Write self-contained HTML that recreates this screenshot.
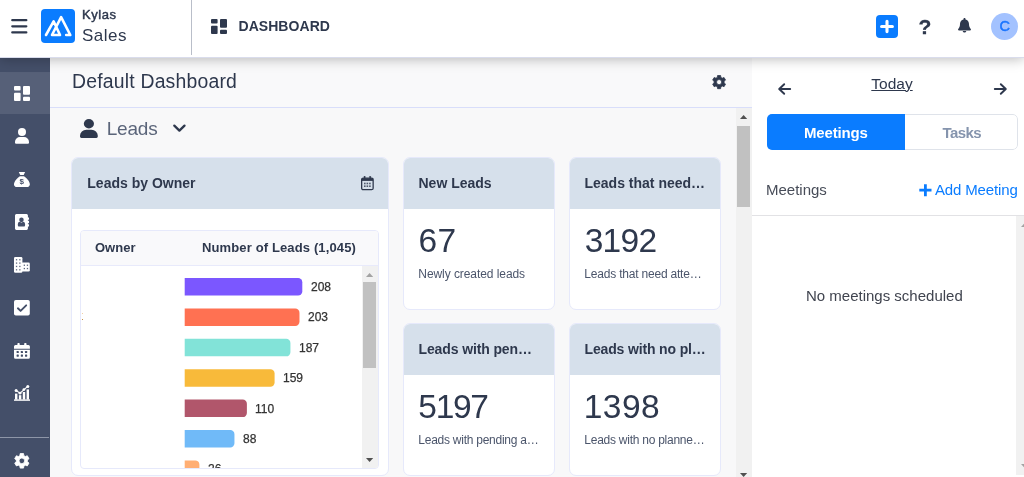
<!DOCTYPE html>
<html lang="en">
<head>
<meta charset="utf-8">
<title>Kylas Sales - Dashboard</title>
<style>
*{box-sizing:border-box;margin:0;padding:0}
html,body{width:1024px;height:477px;overflow:hidden;background:#f8f8f9}
body{font-family:"Liberation Sans",sans-serif;color:#2e384d;position:relative}
.abs{position:absolute}
.t{position:absolute;white-space:nowrap;line-height:1}
svg{position:absolute;display:block;overflow:visible}

/* ---------- top bar ---------- */
#top{position:absolute;left:0;top:0;width:1024px;height:58px;border-bottom:1px solid #d9dcec;background:#fff;box-shadow:0 1px 12px rgba(0,0,0,.28);z-index:10}
#burger i{position:absolute;left:11px;width:16px;height:2px;background:#2e384d;border-radius:1px}
#logobg{left:41px;top:9px;width:34px;height:34px;background:#0a7cff;border-radius:4px}
#vline{left:191px;top:0;width:1px;height:55px;background:#b9bec9}
#plusbtn{left:876.2px;top:15px;width:21.9px;height:23px;background:#0a7cff;border-radius:4px}
#avatar{left:991px;top:13px;width:27px;height:27px;border-radius:50%;background:#a3c2ff}

/* ---------- sidebar ---------- */
#side{position:absolute;left:0;top:57px;width:50px;height:420px;background:#444f69}
#side .active{position:absolute;left:0;top:15px;width:50px;height:42px;background:#566078}
#side .sep{position:absolute;left:0;top:380px;width:49px;height:1px;background:#8e96a8}

/* ---------- main ---------- */
#main{position:absolute;left:50px;top:57px;width:702px;height:420px;background:#f8f8f9}
#titlebar{position:absolute;left:0;top:0;width:702px;height:50px;background:#f9f9fa}
#titleline{left:0;top:50px;width:702px;height:1px;background:#d9defa}
.card{position:absolute;background:#fff;border:1px solid #e6e9fb;border-radius:7px;overflow:hidden}
.card .hd{position:absolute;left:0;top:0;right:0;height:50.5px;background:#d6e0eb}
.ttl{font-weight:bold;font-size:14px}
.num{font-size:33.5px}
.cap{font-size:12px;color:#4b556b}
.bar{position:absolute;left:104px;height:18px;border-radius:0 5px 5px 0}
.bl{font-size:12px;color:#333;-webkit-text-stroke:.25px #333}
#tbl{position:absolute;left:8px;top:72px;width:299px;height:239px;border:1px solid #e6e9fb;border-radius:4px;background:#fff;overflow:hidden}
#tbl .th{position:absolute;left:0;top:0;width:297px;height:35px;background:#f9f9fb;border-bottom:1px solid #e8eafb}
.sb{position:absolute;background:#f1f1f1}
.sb .thumb{position:absolute;background:#c1c1c1}
.sb .up,.sb .dn{position:absolute;width:0;height:0;border-left:3.5px solid transparent;border-right:3.5px solid transparent}
.sb .up{border-bottom:4px solid #505050}
.sb .dn{border-top:4px solid #505050}

/* ---------- right panel ---------- */
#right{position:absolute;left:752px;top:57px;width:272px;height:420px;background:#fff}
#tabs{position:absolute;left:14.5px;top:57px;width:251.5px;height:36px;border-radius:5px;background:#fff;overflow:hidden}
#tabs .off{position:absolute;left:0;top:0;right:0;bottom:0;border:1px solid #dfe3ea;border-radius:5px}
#tabs .on{position:absolute;left:0;top:0;width:138.5px;height:36px;background:#0a7cff}
#rline{position:absolute;left:0;top:158px;width:272px;height:1px;background:#e2e2e5}
</style>
</head>
<body>
<!-- main content -->
<div id="main">
  <div id="titlebar"></div>
  <div class="t" id="t_dd" style="left:22px;top:15px;font-size:19.4px;letter-spacing:.2px">Default Dashboard</div>
  <svg style="left:661.90px;top:18.40px" width="14.2" height="14.2" viewBox="-8.3 -8.3 16.6 16.6"><path d="M-2.11 -5.51L-1.78 -7.70L1.78 -7.70L2.11 -5.51L3.71 -4.59L5.78 -5.39L7.55 -2.31L5.83 -0.92L5.83 0.92L7.55 2.31L5.78 5.39L3.71 4.59L2.11 5.51L1.78 7.70L-1.78 7.70L-2.11 5.51L-3.71 4.59L-5.78 5.39L-7.55 2.31L-5.83 0.92L-5.83 -0.92L-7.55 -2.31L-5.78 -5.39L-3.71 -4.59ZM3 0A3 3 0 1 0 -3 0A3 3 0 1 0 3 0Z" fill="#2e384d" fill-rule="evenodd" stroke="#2e384d" stroke-width="0.9" stroke-linejoin="round"/></svg>
  <div class="abs" id="titleline"></div>
  <svg style="left:30.2px;top:62px" width="17.8" height="18.9" viewBox="0 0 14 16" preserveAspectRatio="none"><circle cx="7" cy="4.05" r="4" fill="#2e384d"/><path fill="#2e384d" d="M0 14.9V14.2A5 5 0 0 1 5 9.2H9A5 5 0 0 1 14 14.2V14.9A1.1 1.1 0 0 1 12.9 16H1.1A1.1 1.1 0 0 1 0 14.9Z"/></svg>
  <div class="t" id="t_leads" style="left:56.7px;top:62px;font-size:19px;letter-spacing:-.2px;color:#5b657a">Leads</div>
  <svg style="left:122.7px;top:66.8px" width="13" height="9" viewBox="0 0 13 9"><path d="M1.3 1.6L6.4 6.6L11.5 1.6" fill="none" stroke="#2e384d" stroke-width="2.3" stroke-linecap="round" stroke-linejoin="round"/></svg>
  <div class="sb" id="sb_main" style="left:686px;top:51px;width:16px;height:369px">
    <svg style="left:4.0px;top:7.0px" width="7.2" height="4" viewBox="0 0 7.2 4"><path d="M0 4L3.6 0L7.2 4Z" fill="#505050"/></svg>
    <div class="thumb" style="left:1px;top:18px;width:13px;height:81px"></div>
    <svg style="left:4.0px;top:365.0px" width="7.2" height="4" viewBox="0 0 7.2 4"><path d="M0 0H7.2L3.6 4Z" fill="#505050"/></svg>
  </div>
</div>

<!-- cards (page coordinates) -->
<div class="card" id="c_owner" style="left:71px;top:157px;width:318px;height:319px">
  <div class="hd"></div>
  <div class="t ttl" id="t_lbo" style="left:15.3px;top:18.4px">Leads by Owner</div>
  <svg style="left:289.3px;top:17.9px" width="12.8" height="14.4" viewBox="0 0 12.8 14.4"><rect x="0.65" y="2.2" width="11.5" height="11.5" rx="1.5" fill="none" stroke="#2e384d" stroke-width="1.3"/><rect x="0.65" y="2.2" width="11.5" height="2.7" fill="#2e384d"/><rect x="2.9" y="0" width="1.5" height="3" rx="0.5" fill="#2e384d"/><rect x="8.4" y="0" width="1.5" height="3" rx="0.5" fill="#2e384d"/><rect x="3.0" y="6.7" width="1.6" height="1.6" fill="#2e384d" opacity=".8"/><rect x="5.55" y="6.7" width="1.6" height="1.6" fill="#2e384d" opacity=".8"/><rect x="8.1" y="6.7" width="1.6" height="1.6" fill="#2e384d" opacity=".8"/><rect x="3.0" y="9.4" width="1.6" height="1.6" fill="#2e384d" opacity=".8"/><rect x="5.55" y="9.4" width="1.6" height="1.6" fill="#2e384d" opacity=".8"/><rect x="8.1" y="9.4" width="1.6" height="1.6" fill="#2e384d" opacity=".8"/></svg>
  <div id="tbl">
    <div class="th"></div>
    <div class="t" id="t_owner" style="left:14px;top:10px;font-size:13px;font-weight:bold">Owner</div>
    <div class="t" id="t_nol" style="left:121px;top:10px;font-size:13px;font-weight:bold;letter-spacing:.13px">Number of Leads (1,045)</div>
    <svg style="left:0;top:.3px" width="282" height="238" viewBox="0 0 282 238"><path fill="#7b57ff" d="M103.7 47.10h113.40a4.2 4.2 0 0 1 4.2 4.2v9.10a4.2 4.2 0 0 1 -4.2 4.2h-113.40z"/><path fill="#ff7152" d="M103.7 77.48h110.58a4.2 4.2 0 0 1 4.2 4.2v9.10a4.2 4.2 0 0 1 -4.2 4.2h-110.58z"/><path fill="#82e3d8" d="M103.7 107.86h101.53a4.2 4.2 0 0 1 4.2 4.2v9.10a4.2 4.2 0 0 1 -4.2 4.2h-101.53z"/><path fill="#f8ba3a" d="M103.7 138.24h85.70a4.2 4.2 0 0 1 4.2 4.2v9.10a4.2 4.2 0 0 1 -4.2 4.2h-85.70z"/><path fill="#b1566b" d="M103.7 168.62h57.99a4.2 4.2 0 0 1 4.2 4.2v9.10a4.2 4.2 0 0 1 -4.2 4.2h-57.99z"/><path fill="#70baf8" d="M103.7 199.00h45.56a4.2 4.2 0 0 1 4.2 4.2v9.10a4.2 4.2 0 0 1 -4.2 4.2h-45.56z"/><path fill="#ffae73" d="M103.7 229.38h10.50a4.2 4.2 0 0 1 4.2 4.2v9.10a4.2 4.2 0 0 1 -4.2 4.2h-10.50z"/></svg>
    <div class="t bl" style="left:230px;top:50px">208</div>
    <div class="t bl" style="left:227px;top:80px">203</div>
    <div class="t bl" style="left:218px;top:111px">187</div>
    <div class="t bl" style="left:202px;top:141px">159</div>
    <div class="t bl" style="left:174px;top:172px">110</div>
    <div class="t bl" style="left:162px;top:202px">88</div>
    <div class="t bl" style="left:127px;top:232px">26</div>
    <div class="abs" style="left:1px;top:82px;width:1px;height:1px;background:#f4cfa6"></div><div class="abs" style="left:1px;top:88px;width:1px;height:1px;background:#c48f45"></div>
    <div class="sb" id="sb_tbl" style="left:281px;top:35px;width:16px;height:202px">
      <svg style="left:4.0px;top:7.0px" width="7.2" height="4" viewBox="0 0 7.2 4"><path d="M0 4L3.6 0L7.2 4Z" fill="#a3a3a3"/></svg>
      <div class="thumb" style="left:1px;top:16px;width:13px;height:86px"></div>
      <svg style="left:4.0px;top:192.0px" width="7.2" height="4" viewBox="0 0 7.2 4"><path d="M0 0H7.2L3.6 4Z" fill="#505050"/></svg>
    </div>
  </div>
</div>

<div class="card" id="c1" style="left:403px;top:157px;width:152px;height:153px">
  <div class="hd"></div>
  <div class="t ttl" style="left:14.5px;top:18.4px">New Leads</div>
  <div class="t num" style="left:14.6px;top:66px;letter-spacing:.2px">67</div>
  <div class="t cap" style="left:14.3px;top:110px;letter-spacing:-.07px">Newly created leads</div>
</div>
<div class="card" id="c2" style="left:569px;top:157px;width:152px;height:153px">
  <div class="hd"></div>
  <div class="t ttl" style="left:14.5px;top:18.4px">Leads that need…</div>
  <div class="t num" style="left:14.7px;top:66px;letter-spacing:-.7px">3192</div>
  <div class="t cap" style="left:14.3px;top:110px;letter-spacing:-.2px">Leads that need atte…</div>
</div>
<div class="card" id="c3" style="left:403px;top:323px;width:152px;height:153px">
  <div class="hd"></div>
  <div class="t ttl" style="left:14.5px;top:18.4px;letter-spacing:-.12px">Leads with pen…</div>
  <div class="t num" style="left:14.3px;top:66px;letter-spacing:-1.3px">5197</div>
  <div class="t cap" style="left:14.3px;top:110px;letter-spacing:-.25px">Leads with pending a…</div>
</div>
<div class="card" id="c4" style="left:569px;top:323px;width:152px;height:153px">
  <div class="hd"></div>
  <div class="t ttl" style="left:14.5px;top:18.4px;letter-spacing:-.15px">Leads with no pl…</div>
  <div class="t num" style="left:13.7px;top:66px;letter-spacing:.5px">1398</div>
  <div class="t cap" style="left:14.3px;top:110px;letter-spacing:-.25px">Leads with no planne…</div>
</div>

<!-- right panel -->
<div id="right">
  <svg style="left:25.6px;top:26px" width="14" height="12" viewBox="0 0 14 12"><path d="M12.2 6H1.4M6.2 1.2L1.2 6L6.2 10.8" fill="none" stroke="#2e384d" stroke-width="1.9" stroke-linecap="round" stroke-linejoin="round"/></svg>
  <div class="t" id="t_today" style="left:119.3px;top:19px;font-size:15.5px;text-decoration:underline;text-decoration-thickness:1.4px">Today</div>
  <svg style="left:241.3px;top:26px" width="14" height="12" viewBox="0 0 14 12"><path d="M1.8 6H12.6M7.8 1.2L12.8 6L7.8 10.8" fill="none" stroke="#2e384d" stroke-width="1.9" stroke-linecap="round" stroke-linejoin="round"/></svg>
  <div id="tabs">
    <div class="off"></div>
    <div class="on"></div>
    <div class="t" id="t_meet" style="left:37.5px;top:11px;font-size:15px;font-weight:bold;letter-spacing:-.15px;color:#fff">Meetings</div>
    <div class="t" id="t_tasks" style="left:176px;top:11px;font-size:15px;font-weight:bold;letter-spacing:-.6px;color:#8594ad">Tasks</div>
  </div>
  <div class="t" id="t_meet2" style="left:14px;top:125px;font-size:15px;color:#474c58">Meetings</div>
  <svg style="left:167.2px;top:127.3px" width="12.8" height="12.4" viewBox="0 0 12.8 12.4"><path d="M6.4 0.2V12.2M0.3 6.2H12.5" stroke="#0a7cff" stroke-width="2.8" fill="none"/></svg>
  <div class="t" id="t_add" style="left:183px;top:125px;font-size:15px;letter-spacing:-.15px;color:#0a7cff">Add Meeting</div>
  <div id="rline"></div>
  <div class="sb" id="sb_r" style="left:264px;top:159px;width:15px;height:259px">
    <svg style="left:5.0px;top:7.0px" width="7.2" height="4" viewBox="0 0 7.2 4"><path d="M0 4L3.6 0L7.2 4Z" fill="#a3a3a3"/></svg>
    <svg style="left:5.0px;top:248.0px" width="7.2" height="4" viewBox="0 0 7.2 4"><path d="M0 0H7.2L3.6 4Z" fill="#a3a3a3"/></svg>
  </div>
  <div class="t" id="t_none" style="left:54px;top:231px;font-size:15px;color:#40444f">No meetings scheduled</div>
</div>

<!-- sidebar -->
<div id="side">
  <div class="active"></div>
  <svg style="left:14.2px;top:29px" width="16" height="15" viewBox="0 0 16 15"><rect x="0" y="0" width="6.6" height="4.6" rx="1" fill="#fff"/><rect x="0" y="6.8" width="6.6" height="8.2" rx="1" fill="#fff"/><rect x="9" y="0" width="7" height="8.8" rx="1" fill="#fff"/><rect x="9" y="10.7" width="7" height="4.3" rx="1" fill="#fff"/></svg>
  <svg style="left:15px;top:71.3px" width="14" height="15.8" viewBox="0 0 14 16" preserveAspectRatio="none"><circle cx="7" cy="4.05" r="4" fill="#fff"/><path fill="#fff" d="M0 14.9V14.2A5 5 0 0 1 5 9.2H9A5 5 0 0 1 14 14.2V14.9A1.1 1.1 0 0 1 12.9 16H1.1A1.1 1.1 0 0 1 0 14.9Z"/></svg>
  <svg style="left:14.2px;top:115.1px" width="15.8" height="15.1" viewBox="0 0 16.5 15.5" preserveAspectRatio="none"><path fill="#fff" d="M5 0H11.6L10.1 3.2H6.5Z"/><path fill="#fff" d="M6.2 4.4H10.4C13.6 6.6 16.5 9.8 16.5 12.6C16.5 14.4 15.3 15.5 13.6 15.5H3C1.2 15.5 0 14.4 0 12.6C0 9.8 3 6.6 6.2 4.4Z"/></svg>
  <div class="t" id="t_usd" style="left:19.6px;top:120.6px;font-size:8px;font-weight:bold;color:#444f69">$</div>
  <svg style="left:15.2px;top:157px" width="14" height="16" viewBox="0 0 1664 1792" preserveAspectRatio="none"><path fill="#fff" d="M1201 1238Q1201 1181 1196 1131Q1190 1081 1174 1030Q1159 980 1135 944Q1111 909 1071 886Q1031 864 980 864Q974 868 946 884Q919 901 904 909Q889 917 864 929Q838 941 814 946Q791 951 768 951Q745 951 722 946Q698 941 672 929Q647 917 632 909Q617 901 590 884Q562 868 556 864Q505 864 465 886Q425 909 401 944Q377 980 362 1030Q346 1081 340 1131Q335 1181 335 1238Q335 1311 377 1360Q419 1408 480 1408H1056Q1117 1408 1159 1360Q1201 1311 1201 1238ZM1028 644Q1028 536 952 460Q875 384 768 384Q661 384 584 460Q508 536 508 644Q508 751 584 827Q661 903 768 903Q875 903 952 827Q1028 751 1028 644ZM1664 1184V1376Q1664 1390 1655 1399Q1646 1408 1632 1408H1536V1632Q1536 1698 1489 1745Q1442 1792 1376 1792H160Q94 1792 47 1745Q0 1698 0 1632V160Q0 94 47 47Q94 0 160 0H1376Q1442 0 1489 47Q1536 94 1536 160V384H1632Q1646 384 1655 393Q1664 402 1664 416V608Q1664 622 1655 631Q1646 640 1632 640H1536V768H1632Q1646 768 1655 777Q1664 786 1664 800V992Q1664 1006 1655 1015Q1646 1024 1632 1024H1536V1152H1632Q1646 1152 1655 1161Q1664 1170 1664 1184Z"/></svg>
  <svg style="left:14.2px;top:199.6px" width="16" height="16" viewBox="0 0 16 16"><rect x="0" y="0" width="8.4" height="15.8" rx="1.3" fill="#fff"/><rect x="7.4" y="5.6" width="8.4" height="8.9" rx="1.3" fill="#fff"/><rect x="1.9" y="2.1" width="1.3" height="1.3" fill="#444f69" opacity=".85"/><rect x="5.199999999999999" y="2.1" width="1.3" height="1.3" fill="#444f69" opacity=".85"/><rect x="1.9" y="5.45" width="1.3" height="1.3" fill="#444f69" opacity=".85"/><rect x="5.199999999999999" y="5.45" width="1.3" height="1.3" fill="#444f69" opacity=".85"/><rect x="1.9" y="8.8" width="1.3" height="1.3" fill="#444f69" opacity=".85"/><rect x="5.199999999999999" y="8.8" width="1.3" height="1.3" fill="#444f69" opacity=".85"/><rect x="1.9" y="12.15" width="1.3" height="1.3" fill="#444f69" opacity=".85"/><rect x="5.199999999999999" y="12.15" width="1.3" height="1.3" fill="#444f69" opacity=".85"/><rect x="9.7" y="7.6" width="1.3" height="1.3" fill="#444f69" opacity=".85"/><rect x="12.799999999999999" y="7.6" width="1.3" height="1.3" fill="#444f69" opacity=".85"/><rect x="9.7" y="10.899999999999999" width="1.3" height="1.3" fill="#444f69" opacity=".85"/><rect x="12.799999999999999" y="10.899999999999999" width="1.3" height="1.3" fill="#444f69" opacity=".85"/></svg>
  <svg style="left:14.2px;top:242.5px" width="15.8" height="15.6" viewBox="0 0 15.8 15.6"><rect x="0" y="0" width="15.8" height="15.6" rx="1.8" fill="#fff"/><path d="M3.9 8.3L6.6 10.9L12.2 5.3" fill="none" stroke="#444f69" stroke-width="1.9" stroke-linecap="round" stroke-linejoin="round"/></svg>
  <svg style="left:14.15px;top:285.6px" width="15.9" height="15.8" viewBox="0 0 15.9 15.8"><rect x="3.4" y="0" width="2.3" height="4" rx="0.8" fill="#fff"/><rect x="10.2" y="0" width="2.3" height="4" rx="0.8" fill="#fff"/><path fill="#fff" d="M1.5 2H14.4A1.5 1.5 0 0 1 15.9 3.5V5.7H0V3.5A1.5 1.5 0 0 1 1.5 2Z"/><path fill="#fff" d="M0 6.7H15.9V14.3A1.5 1.5 0 0 1 14.4 15.8H1.5A1.5 1.5 0 0 1 0 14.3Z"/><rect x="2.6" y="8.0" width="2.2" height="2.1" rx="0.4" fill="#444f69"/><rect x="6.800000000000001" y="8.0" width="2.2" height="2.1" rx="0.4" fill="#444f69"/><rect x="11.0" y="8.0" width="2.2" height="2.1" rx="0.4" fill="#444f69"/><rect x="2.6" y="11.6" width="2.2" height="2.1" rx="0.4" fill="#444f69"/><rect x="6.800000000000001" y="11.6" width="2.2" height="2.1" rx="0.4" fill="#444f69"/><rect x="11.0" y="11.6" width="2.2" height="2.1" rx="0.4" fill="#444f69"/></svg>
  <svg style="left:14.2px;top:328.4px" width="16" height="16" viewBox="0 0 16 16"><rect x="0" y="14.4" width="16" height="1.4" fill="#fff"/><rect x="1" y="8.6" width="2.4" height="6" fill="#fff"/><rect x="4.9" y="10.2" width="2.4" height="4.4" fill="#fff"/><rect x="8.8" y="7" width="2.4" height="7.6" fill="#fff"/><rect x="12.6" y="4.4" width="2.4" height="10.2" fill="#fff"/><path d="M2.1 5.4L6 8.2L13.7 1.3" fill="none" stroke="#fff" stroke-width="1.1"/><circle cx="2.1" cy="5.4" r="1.5" fill="#fff"/><circle cx="6" cy="8.2" r="1.4" fill="#fff"/><circle cx="9.9" cy="4.6" r="1.4" fill="#fff"/><circle cx="13.8" cy="1.4" r="1.5" fill="#fff"/></svg>
  <div class="sep"></div>
  <svg style="left:14.05px;top:395.65px" width="15.7" height="15.7" viewBox="-8.3 -8.3 16.6 16.6"><path d="M-2.11 -5.51L-1.78 -7.70L1.78 -7.70L2.11 -5.51L3.71 -4.59L5.78 -5.39L7.55 -2.31L5.83 -0.92L5.83 0.92L7.55 2.31L5.78 5.39L3.71 4.59L2.11 5.51L1.78 7.70L-1.78 7.70L-2.11 5.51L-3.71 4.59L-5.78 5.39L-7.55 2.31L-5.83 0.92L-5.83 -0.92L-7.55 -2.31L-5.78 -5.39L-3.71 -4.59ZM3 0A3 3 0 1 0 -3 0A3 3 0 1 0 3 0Z" fill="#fff" fill-rule="evenodd" stroke="#fff" stroke-width="0.9" stroke-linejoin="round"/></svg>
</div>

<!-- top bar -->
<div id="top">
  <svg style="left:11px;top:18px" width="17" height="16" viewBox="0 0 17 16"><path d="M1.3 2.2H15.3M1.3 8.3H15.3M1.3 14.4H15.3" stroke="#2e384d" stroke-width="2.3" stroke-linecap="round" fill="none"/></svg>
  <div class="abs" id="logobg"></div>
  <svg style="left:41px;top:9px" width="34" height="34" viewBox="0 0 34 34"><path d="M5 26L12.6 12.3L19 26H11L20.1 8.2L29.3 26H25.2" fill="none" stroke="#fff" stroke-width="2.6" stroke-linecap="round" stroke-linejoin="round"/></svg>
  <div class="t" id="t_kylas" style="left:82px;top:8px;font-size:13px;letter-spacing:.55px;-webkit-text-stroke:.45px #2e384d">Kylas</div>
  <div class="t" id="t_sales" style="left:82px;top:27px;font-size:17px;letter-spacing:.5px">Sales</div>
  <div class="abs" id="vline"></div>
  <svg style="left:211px;top:18.8px" width="16" height="15" viewBox="0 0 16 15"><rect x="0" y="0" width="6.6" height="4.6" rx="1" fill="#2e384d"/><rect x="0" y="6.8" width="6.6" height="8.2" rx="1" fill="#2e384d"/><rect x="9" y="0" width="7" height="8.8" rx="1" fill="#2e384d"/><rect x="9" y="10.7" width="7" height="4.3" rx="1" fill="#2e384d"/></svg>
  <div class="t" id="t_dash" style="left:238.5px;top:19px;font-size:14px;font-weight:bold;letter-spacing:.05px">DASHBOARD</div>
  <div class="abs" id="plusbtn"></div>
  <svg style="left:877px;top:15px" width="21" height="23" viewBox="0 0 21 23"><path d="M10 6.3V16.6M4.6 11.45H15.4" stroke="#fff" stroke-width="3.1" stroke-linecap="round" fill="none"/></svg>
  <div class="t" id="t_q" style="left:918.4px;top:15.6px;font-size:21px;font-weight:bold;-webkit-text-stroke:.3px #2e384d">?</div>
  <svg style="left:957.5px;top:18.4px" width="13" height="14.6" viewBox="0 0 13 14.6"><path fill="#2e384d" d="M6.5 0C7.1 0 7.5.4 7.5 1V1.4C9.6 1.9 11 3.6 11 5.9C11 8.6 11.9 9.9 12.6 10.7C12.9 11 13 11.3 13 11.6C13 12 12.7 12.4 12.2 12.4H.8C.3 12.4 0 12 0 11.6C0 11.3.1 11 .4 10.7C1.1 9.9 2 8.6 2 5.9C2 3.6 3.4 1.9 5.5 1.4V1C5.5.4 5.9 0 6.5 0ZM4.7 13.1H8.3C8.3 14 7.5 14.6 6.5 14.6C5.5 14.6 4.7 14 4.7 13.1Z"/></svg>
  <div class="abs" id="avatar"></div>
  <div class="t" id="t_c" style="left:999.6px;top:18.6px;font-size:14.5px;color:#1a75ff;-webkit-text-stroke:.5px #1a75ff">C</div>
</div>

</body>
</html>
